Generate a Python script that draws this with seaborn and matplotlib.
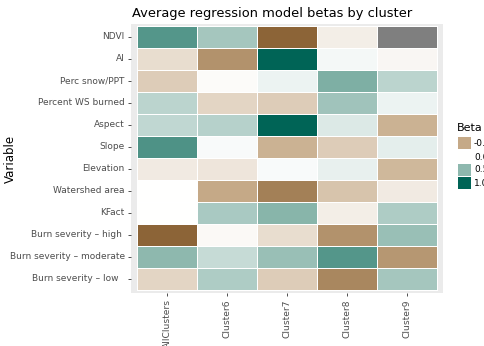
import numpy as np
import pandas as pd
import matplotlib
matplotlib.use("Agg")
import matplotlib.pyplot as plt
import seaborn as sns
from matplotlib.colors import LinearSegmentedColormap, Normalize
from matplotlib.patches import Rectangle

variables = ["NDVI", "AI", "Perc snow/PPT", "Percent WS burned", "Aspect", "Slope",
             "Elevation", "Watershed area", "KFact", "Burn severity \u2013 high ",
             "Burn severity \u2013 moderate", "Burn severity \u2013 low  "]
clusters = ["AllClusters", "Cluster6", "Cluster7", "Cluster8", "Cluster9"]

all_clusters = [0.70, -0.20, -0.30, 0.30, 0.28, 0.72, -0.12, 0.00, 0.00, -0.80, 0.50, -0.25]
cluster6 = [0.40, -0.60, -0.02, -0.25, 0.32, 0.03, -0.15, -0.50, 0.38, -0.04, 0.25, 0.36]
cluster7 = [-0.80, 1.00, 0.08, -0.30, 1.00, -0.45, 0.03, -0.68, 0.52, -0.20, 0.45, -0.30]
cluster8 = [-0.10, 0.05, 0.55, 0.42, 0.15, -0.30, 0.10, -0.35, -0.10, -0.60, 0.70, -0.65]
cluster9 = [np.nan, -0.05, 0.30, 0.08, -0.45, 0.12, -0.42, -0.12, 0.36, 0.45, -0.58, 0.40]

legend_breaks = [-0.5, 0.0, 0.5, 1.0]
legend_labels = ["-0.5", "0.0", "0.5", "1.0"]

df = pd.DataFrame({"AllClusters": all_clusters, "Cluster6": cluster6, "Cluster7": cluster7,
                   "Cluster8": cluster8, "Cluster9": cluster9}, index=variables)[clusters]

vmin, vmax = -0.8, 1.0
nodes = [(-0.8, (140, 100, 55)), (-0.5, (198, 170, 136)), (0.0, (255, 255, 255)),
         (0.5, (142, 184, 174)), (1.0, (0, 100, 86))]
cmap = LinearSegmentedColormap.from_list(
    "beta", [((v - vmin) / (vmax - vmin), tuple(c / 255 for c in col)) for v, col in nodes])
cmap.set_bad("#7F7F7F")
norm = Normalize(vmin, vmax)

W, H = 484, 346
fig = plt.figure(figsize=(W / 100, H / 100), dpi=100)
ax = fig.add_axes([131 / W, 1 - 293 / H, (443 - 131) / W, (293 - 24) / H])
ax.set_facecolor("#EBEBEB")

sns.heatmap(df, ax=ax, cmap=cmap, vmin=vmin, vmax=vmax, cbar=False,
            linewidths=0.7, linecolor="white")

ax.set_xlim(-0.1, 5.1)
ax.set_ylim(12.14, -0.09)
for s in ax.spines.values():
    s.set_visible(False)

ax.tick_params(axis="both", colors="#333333", length=2.5, width=0.6,
               labelcolor="#4D4D4D", pad=2)
ax.set_xticklabels(clusters, rotation=90, fontsize=6.6, color="#4D4D4D")
ax.set_yticklabels(variables, rotation=0, fontsize=6.5, color="#4D4D4D")
ax.set_xlabel("")
ax.set_ylabel("Variable", fontsize=8.5, color="black")
ax.yaxis.set_label_coords(-114 / 312, 0.5)

fig.text(132 / W, 1 - 17 / H, "Average regression model betas by cluster",
         fontsize=9.4, ha="left", va="baseline", color="black")

# legend
fig.text(457 / W, 1 - 131 / H, "Beta", fontsize=8, ha="left", va="baseline")
ky = [137, 151, 164, 177]
for y, b, lab in zip(ky, legend_breaks, legend_labels):
    fig.patches.append(Rectangle((458 / W, 1 - (y + 12) / H), 13 / W, 12 / H,
                                 transform=fig.transFigure, facecolor=cmap(norm(b)),
                                 edgecolor="none"))
    fig.text(474 / W, 1 - (y + 6) / H, lab, fontsize=6.5, ha="left", va="center",
             color="black")

fig.savefig("out.png", dpi=100, facecolor="white")
